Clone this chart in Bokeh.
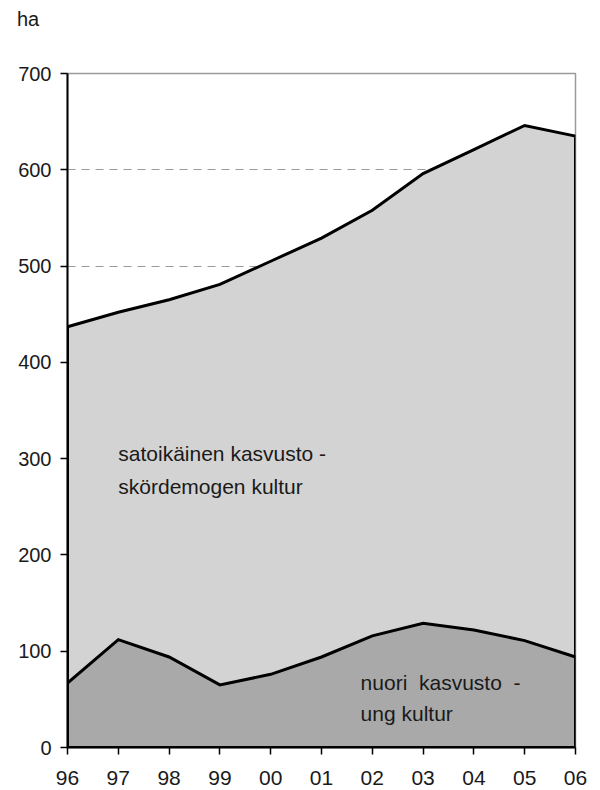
from bokeh.plotting import figure
from bokeh.models import Range1d, Label, FixedTicker, Div
from bokeh.layouts import column
from bokeh.embed import file_html
from bokeh.resources import INLINE

years = ["96", "97", "98", "99", "00", "01", "02", "03", "04", "05", "06"]
young = [67, 112, 94, 65, 76, 94, 116, 129, 122, 111, 94]          # nuori kasvusto
total = [437, 452, 465, 481, 505, 529, 558, 596, 621, 646, 635]    # total (top line)
y_ticks = [0, 100, 200, 300, 400, 500, 600, 700]

FONT = "Liberation Sans"
xs = list(range(len(years)))

unit = Div(text="ha", width=592, height=30, margin=0,
           styles={"font-family": FONT, "font-size": "20px", "color": "#1a1a1a",
                   "padding-left": "17px", "padding-top": "5px", "box-sizing": "border-box"})

p = figure(width=592, height=760, output_backend="svg", toolbar_location=None,
           x_range=Range1d(0, len(years) - 1), y_range=Range1d(0, 700),
           min_border_left=67, min_border_right=17, min_border_top=43, min_border_bottom=43)
p.margin = 0
p.background_fill_color = "white"
p.border_fill_color = "white"
p.outline_line_color = "#9a9a9a"
p.outline_line_width = 1.5

# grid
p.xgrid.visible = False
p.ygrid.ticker = FixedTicker(ticks=y_ticks)
p.ygrid.grid_line_color = "#9a9a9a"
p.ygrid.grid_line_dash = "8 6"
p.ygrid.grid_line_width = 1

# areas
p.patch(xs + xs[::-1], total + [0] * len(xs), fill_color="#d3d3d3",
        line_color="black", line_width=3, line_join="miter")
p.patch(xs + xs[::-1], young + [0] * len(xs), fill_color="#a9a9a9",
        line_color="black", line_width=3, line_join="miter")

# axes
for ax in (p.xaxis, p.yaxis):
    ax.axis_line_color = "black"
    ax.axis_line_width = 2
    ax.major_tick_line_color = "black"
    ax.major_tick_line_width = 1.5
    ax.major_tick_out = 7
    ax.major_tick_in = 0
    ax.minor_tick_line_color = None
    ax.major_label_text_font = FONT
    ax.major_label_text_color = "#1a1a1a"

p.xaxis.ticker = FixedTicker(ticks=xs)
p.xaxis.major_label_overrides = {i: y for i, y in enumerate(years)}
p.xaxis.major_label_text_font_size = "21px"
p.xaxis.major_label_standoff = 16
p.yaxis.ticker = FixedTicker(ticks=y_ticks)
p.yaxis.major_label_text_font_size = "20px"
p.yaxis.major_label_standoff = 9

# series labels
for x, y, t in [(1.0, 305, "satoikäinen kasvusto -"), (1.0, 271, "skördemogen kultur"),
                (5.77, 68, "nuori\u00a0 kasvusto\u00a0 -"), (5.77, 35, "ung kultur")]:
    p.add_layout(Label(x=x, y=y, text=t, text_font=FONT, text_font_size="21px",
                       text_color="#1a1a1a", text_baseline="middle"))

layout = column(unit, p, spacing=0)
open("out.html", "w").write(file_html(layout, INLINE))
